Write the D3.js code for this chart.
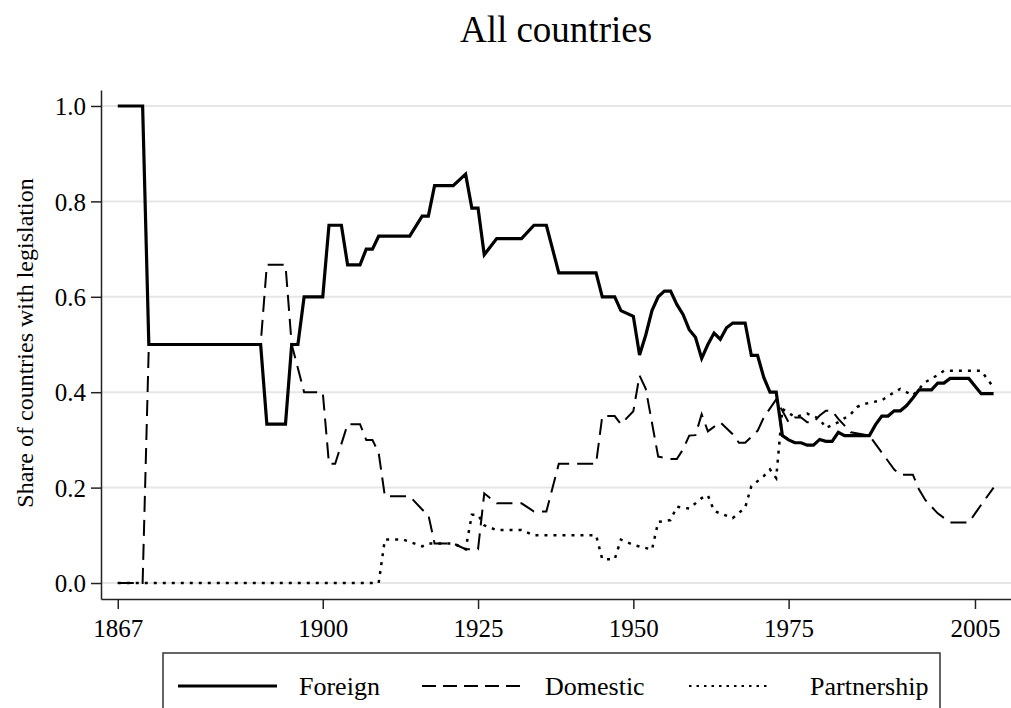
<!DOCTYPE html>
<html>
<head>
<meta charset="utf-8">
<script src="https://cdn.jsdelivr.net/npm/d3@7"></script>
<style>
  body { margin: 0; background: #fff; }
  svg { display: block; font-family: "Liberation Serif", "Times New Roman", serif; }
</style>
</head>
<body>
<svg id="canvas"></svg>
<script>
// share of countries with legislation (years where the line turns)
let foreignYears = [1867,1871,1872,1890,1891,1894,1895,1896,1897,1900,1901,1903,1904,1906,1907,1908,1909,1914,1916,1917,1918,1921,1923,1924,1925,1926,1928,1932,1934,1936,1938,1944,1945,1947,1948,1950,1951,1952,1953,1954,1955,1956,1957,1958,1959,1960,1961,1962,1963,1964,1965,1966,1968,1969,1970,1971,1972,1973,1974,1975,1976,1977,1978,1979,1980,1981,1982,1983,1984,1988,1989,1990,1991,1992,1993,1994,1995,1996,1998,1999,2000,2001,2004,2006,2008];
let foreignShare = [1,1,0.5,0.5,0.333,0.333,0.5,0.5,0.6,0.6,0.75,0.75,0.667,0.667,0.7,0.7,0.727,0.727,0.769,0.769,0.833,0.833,0.857,0.786,0.786,0.688,0.722,0.722,0.75,0.75,0.65,0.65,0.6,0.6,0.571,0.559,0.478,0.52,0.571,0.6,0.612,0.612,0.584,0.563,0.531,0.515,0.471,0.5,0.524,0.511,0.535,0.545,0.545,0.477,0.477,0.431,0.4,0.4,0.309,0.3,0.294,0.294,0.289,0.289,0.301,0.297,0.297,0.316,0.309,0.309,0.332,0.35,0.35,0.361,0.361,0.372,0.388,0.405,0.405,0.419,0.419,0.429,0.429,0.397,0.397];

let domesticYears = [1867,1871,1872,1890,1891,1894,1895,1897,1900,1901,1902,1904,1906,1907,1908,1909,1910,1913,1914,1916,1917,1918,1921,1923,1925,1926,1928,1932,1934,1936,1938,1944,1945,1947,1948,1950,1951,1952,1954,1956,1957,1958,1959,1960,1961,1962,1964,1966,1967,1968,1970,1971,1973,1975,1976,1977,1978,1979,1980,1981,1982,1983,1985,1988,1992,1993,1995,1996,1997,1999,2001,2004,2006,2008];
let domesticShare = [0,0,0.5,0.5,0.667,0.667,0.5,0.4,0.4,0.25,0.25,0.333,0.333,0.3,0.3,0.273,0.182,0.182,0.182,0.154,0.143,0.083,0.083,0.071,0.071,0.188,0.167,0.167,0.15,0.15,0.25,0.25,0.35,0.35,0.333,0.36,0.435,0.407,0.265,0.26,0.26,0.28,0.309,0.31,0.354,0.318,0.337,0.312,0.294,0.294,0.319,0.347,0.385,0.337,0.347,0.347,0.337,0.337,0.351,0.361,0.361,0.344,0.316,0.309,0.238,0.227,0.227,0.196,0.174,0.146,0.127,0.127,0.164,0.2];

let partnerYears = [1867,1909,1910,1913,1916,1917,1921,1923,1924,1925,1926,1928,1932,1934,1944,1945,1947,1948,1950,1953,1954,1956,1957,1959,1961,1962,1963,1966,1968,1969,1971,1972,1973,1974,1976,1978,1980,1981,1983,1985,1986,1987,1990,1992,1993,1995,1996,1997,1999,2000,2006,2008];
let partnerShare = [0,0,0.091,0.091,0.077,0.083,0.083,0.071,0.143,0.143,0.121,0.111,0.111,0.1,0.1,0.05,0.05,0.091,0.08,0.07,0.128,0.132,0.16,0.156,0.178,0.184,0.151,0.136,0.158,0.203,0.224,0.238,0.22,0.365,0.348,0.355,0.344,0.325,0.337,0.354,0.369,0.375,0.383,0.4,0.407,0.393,0.407,0.421,0.436,0.445,0.445,0.41];

let seriesNames = ["Foreign", "Domestic", "Partnership"];
let xTicks = [1867, 1900, 1925, 1950, 1975, 2005];
let yTicks = [0, 0.2, 0.4, 0.6, 0.8, 1.0];

let width = 1011;
let height = 708;
let axisY = 599;
let axisX = 101;

let canvas = d3.select('#canvas')
    .attr('width', width)
    .attr('height', height);

// scales
let xScale = d3.scaleLinear().domain([1864.3, 2010.8]).range([axisX, 1011]);
let yScale = d3.scaleLinear().domain([-0.0335, 1.0335]).range([axisY, 90]);

// gridlines
canvas.append('g')
    .selectAll('line')
    .data(yTicks)
    .enter()
    .append('line')
    .attr('x1', axisX)
    .attr('x2', 1011)
    .attr('y1', d => yScale(d))
    .attr('y2', d => yScale(d))
    .attr('stroke', '#e6e6e6')
    .attr('stroke-width', 2);

// axes
let xAxis = d3.axisBottom(xScale).tickValues(xTicks).tickFormat(d3.format('d')).tickSize(10).tickSizeOuter(0).tickPadding(10);
let yAxis = d3.axisLeft(yScale).tickValues(yTicks).tickFormat(d3.format('.1f')).tickSize(10).tickSizeOuter(0).tickPadding(5);

let gx = canvas.append('g')
    .attr('transform', 'translate(0,' + axisY + ')')
    .call(xAxis);
let gy = canvas.append('g')
    .attr('transform', 'translate(' + axisX + ',0)')
    .call(yAxis);

[gx, gy].forEach(g => {
    g.selectAll('path, line').attr('stroke', '#222').attr('stroke-width', 1.5);
    g.selectAll('text')
        .attr('fill', '#000')
        .style('font-family', '"Liberation Serif", "Times New Roman", serif')
        .style('font-size', '25px');
});
gy.selectAll('text').attr('dy', '0.35em');

// lines
let makeLine = (years, shares) => {
    let pts = years.map((y, i) => [y, shares[i]]);
    return d3.line().x(d => xScale(d[0])).y(d => yScale(d[1]))(pts);
}

canvas.append('path')
    .attr('d', makeLine(partnerYears, partnerShare))
    .attr('fill', 'none')
    .attr('stroke', '#000')
    .attr('stroke-width', 2.5)
    .attr('stroke-dasharray', '3,6');

canvas.append('path')
    .attr('d', makeLine(domesticYears, domesticShare))
    .attr('fill', 'none')
    .attr('stroke', '#000')
    .attr('stroke-width', 2)
    .attr('stroke-dasharray', '16,8');

canvas.append('path')
    .attr('d', makeLine(foreignYears, foreignShare))
    .attr('fill', 'none')
    .attr('stroke', '#000')
    .attr('stroke-width', 3.2)
    .attr('stroke-linejoin', 'miter');

// title
canvas.append('text')
    .attr('x', 556)
    .attr('y', 42)
    .attr('text-anchor', 'middle')
    .style('font-size', '37px')
    .text('All countries');

// y axis title
canvas.append('text')
    .attr('transform', 'translate(33,343) rotate(-90)')
    .attr('text-anchor', 'middle')
    .style('font-size', '24px')
    .text('Share of countries with legislation');

// legend
let legend = canvas.append('g');
legend.append('rect')
    .attr('x', 163)
    .attr('y', 653)
    .attr('width', 777)
    .attr('height', 70)
    .attr('fill', '#fff')
    .attr('stroke', '#333')
    .attr('stroke-width', 1.5);

let legendItems = [
    { name: seriesNames[0], x1: 178, x2: 277, tx: 299, w: 3.2, dash: null },
    { name: seriesNames[1], x1: 422, x2: 522, tx: 545, w: 2, dash: '14,7' },
    { name: seriesNames[2], x1: 689, x2: 769, tx: 810, w: 2, dash: '2.5,5' }
];
legendItems.forEach(item => {
    legend.append('line')
        .attr('x1', item.x1).attr('x2', item.x2)
        .attr('y1', 686).attr('y2', 686)
        .attr('stroke', '#000')
        .attr('stroke-width', item.w)
        .attr('stroke-dasharray', item.dash);
    legend.append('text')
        .attr('x', item.tx)
        .attr('y', 695)
        .style('font-size', '26px')
        .text(item.name);
});
</script>
</body>
</html>
